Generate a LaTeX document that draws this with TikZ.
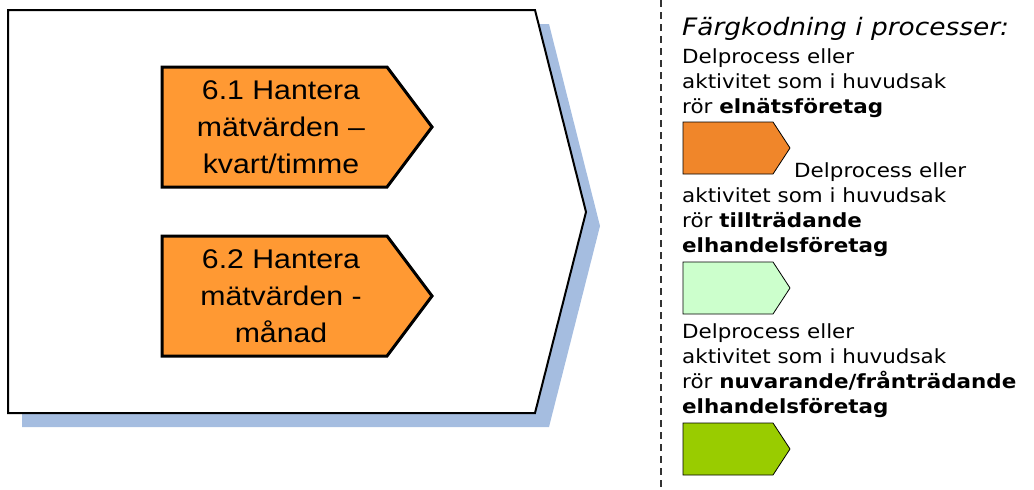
\documentclass[tikz,border=0pt]{standalone}
\usepackage{fontspec}
\setmainfont{DejaVu Sans}[FakeStretch=1.1]
\newfontfamily\boxfont{Liberation Sans}[FakeStretch=1.12]
\usetikzlibrary{positioning}
\definecolor{procorange}{HTML}{FF9933}
\definecolor{keyorange}{HTML}{F0862A}
\definecolor{keylight}{HTML}{CCFFCC}
\definecolor{keygreen}{HTML}{99CC00}
\definecolor{shadowblue}{HTML}{A5BDE0}
\newcommand{\procbox}[4]{\draw[line width=3pt,fill=procorange] (#2,#3) -- ++(225,0)
  -- ++(45,60) -- ++(-45,60) -- ++(-225,0) -- cycle;
  \node[boxtext] (#1) at (#2+119,#3+60) {#4};}
\newcommand{\keyshape}[2]{\draw[line width=0.8pt,fill=#1] (683,#2) -- (773,#2)
  -- (790,#2+26) -- (773,#2+52) -- (683,#2+52) -- cycle;}

\begin{document}
\begin{tikzpicture}[x=1pt,y=-1pt,
  boxtext/.style={align=center,inner sep=0pt,font=\boxfont\fontsize{27}{37}\selectfont},
  keytext/.style={align=left,inner sep=0pt,anchor=north west,font=\fontsize{19.5}{25}\selectfont}]
\useasboundingbox (0,0) rectangle (1034,490);
\fill[shadowblue] (22,24) -- (549,24) -- (600,226) -- (549,427) -- (22,427) -- cycle;
\draw[line width=2pt,fill=white] (8,10) -- (535,10) -- (586,212) -- (535,413) -- (8,413) -- cycle;
\procbox{p61}{162}{67}{6.1 Hantera\\mätvärden –\\kvart/timme}
\procbox{p62}{162}{236}{6.2 Hantera\\mätvärden -\\månad}
\draw[line width=2pt,dash pattern=on 7pt off 5pt,black!80] (661,0) -- (661,490);
\node[anchor=base west,inner sep=0pt,font=\fontsize{24}{28}\selectfont\itshape] (keytitle) at (682,35) {Färgkodning i processer:};
\node[keytext] (keyel) at (682,48) {Delprocess eller\\aktivitet som i huvudsak\\rör \textbf{elnätsföretag}};
\keyshape{keyorange}{122}
\node[keytext,anchor=base west] (keytill1) at (794,177) {Delprocess eller};
\node[keytext] (keytill) at (682,187) {aktivitet som i huvudsak\\rör \textbf{tillträdande}\\\textbf{elhandelsföretag}};
\keyshape{keylight}{262}
\node[keytext] (keynuv) at (682,323) {Delprocess eller\\aktivitet som i huvudsak\\rör \textbf{nuvarande/frånträdande}\\\textbf{elhandelsföretag}};
\keyshape{keygreen}{423}
\end{tikzpicture}
\end{document}
